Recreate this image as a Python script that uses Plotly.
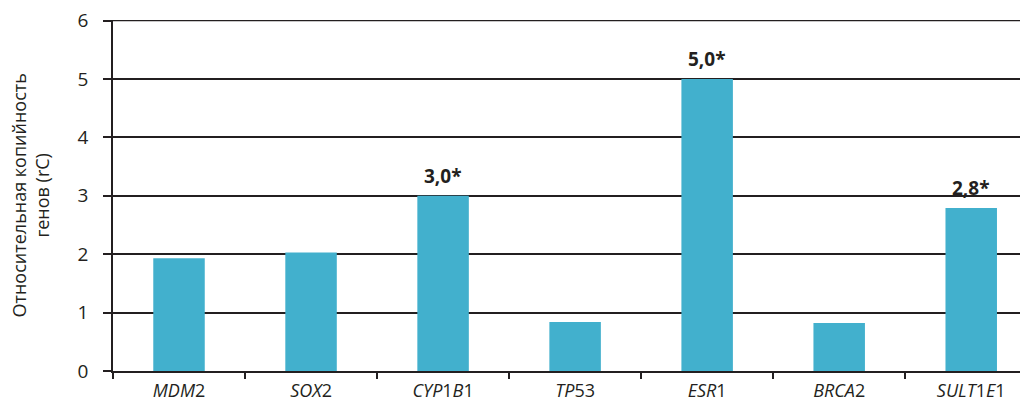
import plotly.graph_objects as go

genes = ["<i>MDM</i>2", "<i>SOX</i>2", "<i>CYP</i>1<i>B</i>1", "<i>TP</i>53",
         "<i>ESR</i>1", "<i>BRCA</i>2", "<i>SULT</i>1<i>E</i>1"]
values = [1.93, 2.03, 3.0, 0.84, 5.0, 0.82, 2.79]
labels = ["", "", "3,0*", "", "5,0*", "", "2,8*"]
y_ticks = [0, 1, 2, 3, 4, 5, 6]
y_title = "Относительная копийность<br>генов (rC)"

FONT = "Open Sans, Noto Sans, sans-serif"
INK = "#231F20"

# page body adds an 8px offset; compensate in figure size and margins
fig = go.Figure(go.Bar(
    x=genes, y=values,
    marker=dict(color="#42B0CD", line=dict(width=0)),
    width=0.39,
))

for g, v, t in zip(genes, values, labels):
    if t:
        fig.add_annotation(
            x=g, y=v, text="<b>%s</b>" % t, showarrow=False,
            xanchor="center", yanchor="bottom", yshift=5,
            font=dict(family=FONT, size=19, color=INK),
        )

fig.update_layout(
    width=1020, height=395,
    margin=dict(l=105, r=0, t=12, b=32, autoexpand=False),
    paper_bgcolor="white", plot_bgcolor="white",
    showlegend=False,
    font=dict(family=FONT, color=INK),
)
fig.update_xaxes(
    automargin=False,
    range=[-0.5, len(genes) - 0.57],
    showline=True, linecolor=INK, linewidth=1.5,
    ticks="outside", tickson="boundaries", ticklen=6, tickcolor=INK, tickwidth=1.5,
    tickfont=dict(family=FONT, size=18, color=INK),
    ticklabelstandoff=3, ticklabeloverflow="allow",
    showgrid=False,
)
fig.update_yaxes(
    automargin=False,
    range=[0, 6.01], tickvals=y_ticks, ticktext=[str(v) for v in y_ticks],
    showline=True, linecolor=INK, linewidth=1.5,
    ticks="outside", ticklen=8, tickcolor=INK, tickwidth=1.5,
    ticklabelstandoff=11, ticklabeloverflow="allow",
    showgrid=True, gridcolor=INK, gridwidth=1.5,
    zeroline=False,
    tickfont=dict(family=FONT, size=19, color=INK),
)
# top gridline (plotly drops gridlines at the very edge of the plot area)
fig.add_shape(type="line", xref="paper", yref="y", x0=0, x1=1,
              y0=y_ticks[-1], y1=y_ticks[-1], line=dict(color=INK, width=1.5),
              layer="below")
fig.add_annotation(
    text=y_title, textangle=-90, showarrow=False,
    xref="paper", yref="paper", x=(22 - 105) / 915, y=0.5,
    xanchor="center", yanchor="middle",
    font=dict(family=FONT, size=18, color=INK),
)

fig.write_html("out.html")
